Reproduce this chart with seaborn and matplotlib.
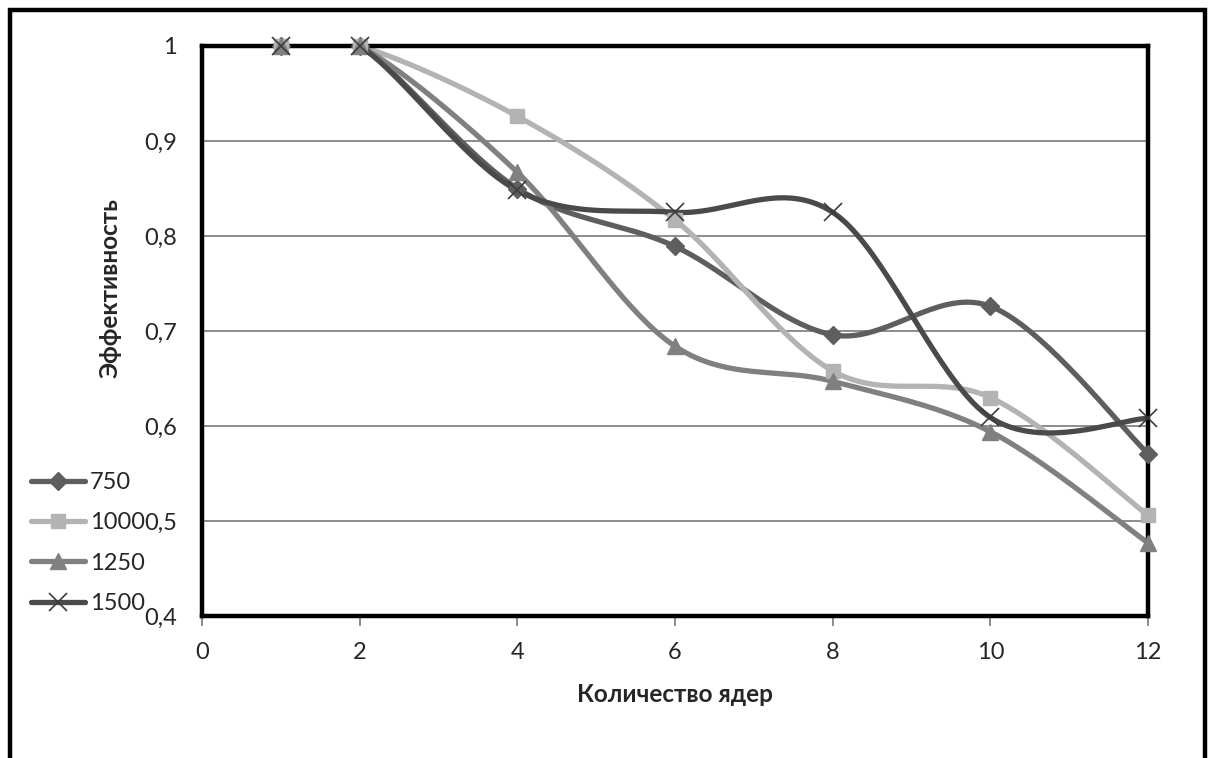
import numpy as np
import pandas as pd
import seaborn as sns
import matplotlib
matplotlib.use("Agg")
import matplotlib.pyplot as plt
from matplotlib.lines import Line2D
from matplotlib.patches import Rectangle

# Number of cores and parallel efficiency for four problem sizes
cores = [1, 2, 4, 6, 8, 10, 12]
eff_750 = [1.0, 1.0, 0.850, 0.789, 0.696, 0.726, 0.571]
eff_1000 = [1.0, 1.0, 0.926, 0.817, 0.658, 0.630, 0.506]
eff_1250 = [1.0, 1.0, 0.867, 0.684, 0.647, 0.594, 0.477]
eff_1500 = [1.0, 1.0, 0.848, 0.825, 0.825, 0.609, 0.608]

series_names = ["750", "1000", "1250", "1500"]
series_values = [eff_750, eff_1000, eff_1250, eff_1500]
colors = ["#5e5e5e", "#b3b3b3", "#808080", "#4a4a4a"]
markers = ["D", "s", "^", "x"]
marker_sizes = [9, 10, 11, 13]

x_ticks = [0, 2, 4, 6, 8, 10, 12]
y_ticks = [0.4, 0.5, 0.6, 0.7, 0.8, 0.9, 1.0]
y_tick_labels = ["0,4", "0,5", "0,6", "0,7", "0,8", "0,9", "1"]


def smooth_curve(x, y, steps=40):
    """Piecewise cubic Bezier through the points (spreadsheet-style smoothing)."""
    pts = np.column_stack([np.asarray(x, float), np.asarray(y, float)])
    n = len(pts)
    t = np.linspace(0, 1, steps)[:, None]
    out = []
    for i in range(n - 1):
        p0 = pts[i - 1] if i > 0 else pts[i]
        p3 = pts[i + 2] if i + 2 < n else pts[i + 1]
        a, d = pts[i], pts[i + 1]
        b = a + (d - p0) / 6.0
        c = d - (p3 - a) / 6.0
        seg = ((1 - t) ** 3) * a + 3 * ((1 - t) ** 2) * t * b + 3 * (1 - t) * t ** 2 * c + t ** 3 * d
        out.append(seg if i == 0 else seg[1:])
    curve = np.vstack(out)
    return curve[:, 0], curve[:, 1]


sns.set_theme(style="white")
plt.rcParams["font.family"] = ["Lato", "DejaVu Sans"]

W, H = 1213, 758
FS = 17
fig = plt.figure(figsize=(W / 100, H / 100), dpi=100)
fig.patch.set_facecolor("white")

# Outer chart frame
fig.patches.append(Rectangle((10 / W, -0.05), (1195) / W, 1.05 - 10 / H,
                             transform=fig.transFigure, fill=False,
                             edgecolor="black", linewidth=3.2, zorder=0))

ax = fig.add_axes([202 / W, (H - 616) / H, (1148 - 202) / W, (616 - 46) / H])

frames = []
for name, vals in zip(series_names, series_values):
    sx, sy = smooth_curve(cores, vals)
    frames.append(pd.DataFrame({"x": sx, "y": sy, "series": name}))
curves = pd.concat(frames, ignore_index=True)

sns.lineplot(data=curves, x="x", y="y", hue="series", hue_order=series_names,
             palette=colors, sort=False, estimator=None, units="series",
             linewidth=3.8, legend=False, ax=ax, zorder=3)
for line in ax.lines:
    line.set_solid_capstyle("round")

for name, vals, col, mk, ms in zip(series_names, series_values, colors, markers, marker_sizes):
    if mk == "x":
        ax.plot(cores, vals, linestyle="none", marker=mk, markersize=ms,
                markeredgecolor="#3c3c3c", markeredgewidth=1.2, clip_on=False, zorder=6)
    else:
        ax.plot(cores, vals, linestyle="none", marker=mk, markersize=ms,
                markerfacecolor=col, markeredgecolor=col, clip_on=False, zorder=6)

ax.set_xlim(0, 12)
ax.set_ylim(0.4, 1.0)
ax.set_xticks(x_ticks)
ax.set_xticklabels([str(v) for v in x_ticks])
ax.set_yticks(y_ticks)
ax.set_yticklabels(y_tick_labels)
ax.grid(axis="y", color="#8c8c8c", linewidth=1.4)
ax.set_axisbelow(True)
ax.set_xlabel("")
ax.set_ylabel("")

for sp in ax.spines.values():
    sp.set_visible(True)
    sp.set_color("black")
    sp.set_linewidth(3.2)
    sp.set_zorder(5)

# thin grey category axis line just under the plot-area border
ax.plot([0, 12], [0.4, 0.4], color="#8c8c8c", linewidth=1.4, clip_on=False,
        zorder=4, transform=ax.transData)
ax.tick_params(axis="x", bottom=True, direction="out", length=7, width=1.4,
               color="#8c8c8c", pad=12, labelsize=FS)
ax.tick_params(axis="y", left=False, pad=12, labelsize=FS)

fig.text(110 / W, 1 - 288 / H, "Эффективность", rotation=90, ha="center",
         va="center", fontsize=FS + 0.5, fontweight="bold")
fig.text(675 / W, 1 - 695 / H, "Количество ядер", ha="center", va="center",
         fontsize=FS + 0.5, fontweight="bold")

handles = [Line2D([0], [0], color=c, linewidth=3.8, marker=m, markersize=s,
                  markerfacecolor=c, markeredgecolor=("#3c3c3c" if m == "x" else c),
                  markeredgewidth=(1.2 if m == "x" else 1.0))
           for c, m, s in zip(colors, markers, marker_sizes)]
fig.legend(handles, series_names, loc="upper left",
           bbox_to_anchor=(31 / W, 1 - 472 / H), frameon=False, fontsize=FS,
           handlelength=2.3, handletextpad=0.2, labelspacing=0.82,
           borderaxespad=0, borderpad=0)

fig.savefig("out.png", dpi=100)
